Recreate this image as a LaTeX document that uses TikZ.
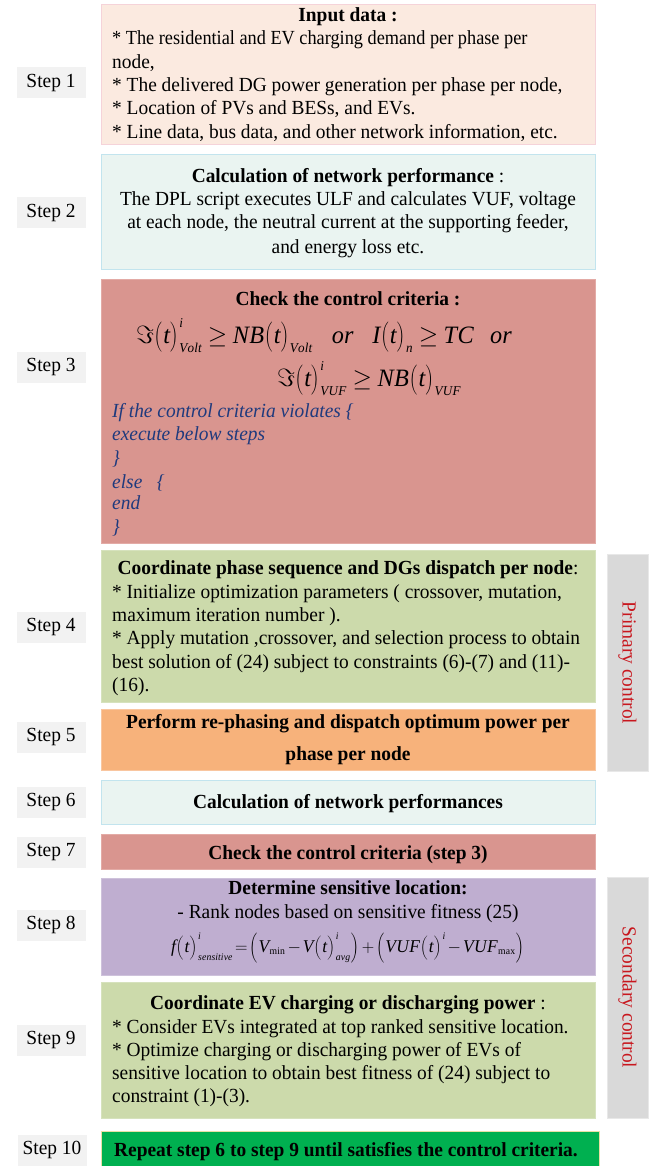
\documentclass[tikz,border=0pt]{standalone}
\usepackage{fontspec}
\usepackage{graphicx}
\setmainfont{Liberation Serif}[FakeStretch=0.97]
\DeclareMathSizes{25}{25}{13.5}{10}
\DeclareMathSizes{18}{18}{10}{7.5}
\newcommand\bodysize{\fontsize{20}{23.3}\selectfont}
\newcommand\eqsize{\fontsize{25}{30}\selectfont\thickmuskip=4mu\medmuskip=2mu}
\newcommand\eqsmall{\fontsize{18}{22}\selectfont\thickmuskip=2mu\medmuskip=2mu}
\newcommand\lpb{\mathopen{\left(\vcenter to 1.2em{}\right.}}
\newcommand\rpb{\mathclose{\left)\vcenter to 1.2em{}\right.}}
\newcommand\lpB{\mathopen{\left(\vcenter to 1.75em{}\right.}}
\newcommand\rpB{\mathclose{\left)\vcenter to 1.75em{}\right.}}
\definecolor{bAfill}{HTML}{FBEAE0}
\definecolor{bAline}{HTML}{F5D3D9}
\definecolor{bBfill}{HTML}{EAF4F1}
\definecolor{bBline}{HTML}{C2E4EE}
\definecolor{bCfill}{HTML}{D9958F}
\definecolor{bCline}{HTML}{E3ABA6}
\definecolor{bDfill}{HTML}{CCDAAB}
\definecolor{bDline}{HTML}{D6E2BD}
\definecolor{bEfill}{HTML}{F7B27B}
\definecolor{bEline}{HTML}{F9C6A0}
\definecolor{bHfill}{HTML}{BFAED0}
\definecolor{bHline}{HTML}{CEC2DB}
\definecolor{bJfill}{HTML}{00B050}
\definecolor{bJline}{HTML}{EADFA6}
\definecolor{lblfill}{HTML}{F2F2F2}
\definecolor{sidefill}{HTML}{D9D9D9}
\definecolor{sideline}{HTML}{E8E8E8}
\definecolor{sidetxt}{HTML}{C8171E}
\definecolor{navy}{HTML}{1F3A7D}
\begin{document}
\begin{tikzpicture}[x=1pt,y=-1pt,font=\bodysize,
  box/.style={rectangle, inner sep=0pt, line width=0.8pt, minimum width=494pt},
  lbl/.style={rectangle, fill=lblfill, minimum width=69pt, minimum height=31pt, inner sep=3pt},
  side/.style={rectangle, fill=sidefill, draw=sideline, line width=0.8pt, minimum width=41pt, inner sep=0pt},
  sidetext/.style={text=sidetxt, rotate=-90, inner sep=0pt},
  ltxt/.style={inner sep=0pt, anchor=base west},
  ctxt/.style={inner sep=0pt, anchor=base},
  itxt/.style={inner sep=0pt, anchor=base west, text=navy, font=\bodysize\itshape}]
\useasboundingbox (0,0) rectangle (664,1166);
\fill[white] (0,0) rectangle (664,1166);

% boxes
\node[box, fill=bAfill, draw=bAline, minimum height=140pt] (b1) at (348,74) {};
\node[box, fill=bBfill, draw=bBline, minimum height=115pt] (b2) at (348,211.5) {};
\node[box, fill=bCfill, draw=bCline, minimum height=264pt] (b3) at (348,411) {};
\node[box, fill=bDfill, draw=bDline, minimum height=152pt] (b4) at (348,626) {};
\node[box, fill=bEfill, draw=bEline, minimum height=61pt] (b5) at (348,739.5) {};
\node[box, fill=bBfill, draw=bBline, minimum height=44pt] (b6) at (348,802) {};
\node[box, fill=bCfill, draw=bCline, minimum height=35pt] (b7) at (348,851.5) {};
\node[box, fill=bHfill, draw=bHline, minimum height=97pt] (b8) at (348,926.5) {};
\node[box, fill=bDfill, draw=bDline, minimum height=136pt] (b9) at (348,1050) {};
\node[box, fill=bJfill, draw=bJline, minimum height=40pt, minimum width=498pt] (b10) at (350,1151) {};

% side bars
\node[side, minimum height=217pt] (sp) at (627.5,663) {};
\node[sidetext] (spt) at (sp.center) {Primary control};
\node[side, minimum height=241pt] (ss) at (627.5,997.5) {};
\node[sidetext] (sst) at (ss.center) {Secondary control};

% step labels
\node[lbl] (s1) at (51,83) {Step 1};
\node[lbl] (s2) at (51,213) {Step 2};
\node[lbl] (s3) at (51,367) {Step 3};
\node[lbl] (s4) at (51,627) {Step 4};
\node[lbl] (s5) at (51,737) {Step 5};
\node[lbl] (s6) at (51,802) {Step 6};
\node[lbl] (s7) at (51,852) {Step 7};
\node[lbl] (s8) at (51,925) {Step 8};
\node[lbl] (s9) at (51,1040) {Step 9};
\node[lbl] (s10) at (52,1150) {Step 10};

% box 1
\node[ctxt] (t1h) at (348,22) {\textbf{Input data :}};
\node[ltxt] (t1a) at (112,45) {\scalebox{0.942}[1]{* The residential and EV charging demand per phase per}};
\node[ltxt] (t1b) at (112,69) {node,};
\node[ltxt] (t1c) at (112,92) {* The delivered DG power generation per phase per node,};
\node[ltxt] (t1d) at (112,115) {* Location of PVs and BESs, and EVs.};
\node[ltxt] (t1e) at (112,139) {* Line data, bus data, and other network information, etc.};

% box 2
\node[ctxt] (t2h) at (348,183) {\textbf{Calculation of network performance} :};
\node[ctxt] (t2a) at (348,206) {The DPL script executes ULF and calculates VUF, voltage};
\node[ctxt] (t2b) at (348,229) {at each node, the neutral current at the supporting feeder,};
\node[ctxt] (t2c) at (348,253) {and energy loss etc.};

% box 3
\node[ctxt] (t3h) at (348,305) {\textbf{Check the control criteria :}};
\node[ltxt, font=\eqsize] (t3e1) at (136,343) {$\mathit{\Im\lpb t\rpb^{i}_{Volt} \geq NB\lpb t\rpb_{Volt}}$\hspace{19pt}\textit{or}\hspace{19pt}$\mathit{I\lpb t\rpb_{n} \geq TC}$\hspace{16pt}\textit{or}};
\node[ltxt, font=\eqsize] (t3e2) at (277,386) {$\mathit{\Im\lpb t\rpb^{i}_{VUF} \geq NB\lpb t\rpb_{VUF}}$};
\node[itxt] (t3a) at (112,417) {If the control criteria violates \{};
\node[itxt] (t3b) at (112,440) {execute below steps};
\node[itxt] (t3c) at (112,464) {\}};
\node[itxt] (t3d) at (112,488) {else \ \ \{};
\node[itxt] (t3e) at (112,509) {end};
\node[itxt] (t3f) at (112,533) {\}};

% box 4
\node[ctxt] (t4h) at (348,574) {\textbf{Coordinate phase sequence and DGs dispatch per node}:};
\node[ltxt] (t4a) at (112,598) {* Initialize optimization parameters ( crossover, mutation,};
\node[ltxt] (t4b) at (112,621) {maximum iteration number ).};
\node[ltxt] (t4c) at (112,644) {* Apply mutation ,crossover, and selection process to obtain};
\node[ltxt] (t4d) at (112,668) {best solution of (24) subject to constraints (6)-(7) and (11)-};
\node[ltxt] (t4e) at (112,691) {(16).};

% box 5
\node[ctxt] (t5a) at (348,728) {\textbf{Perform re-phasing and dispatch optimum power per}};
\node[ctxt] (t5b) at (348,760) {\textbf{phase per node}};

% box 6, 7
\node[ctxt] (t6) at (348,808) {\textbf{Calculation of network performances}};
\node[ctxt] (t7) at (348,859) {\textbf{Check the control criteria (step 3)}};

% box 8
\node[ctxt] (t8h) at (348,894) {\textbf{Determine sensitive location:}};
\node[ctxt] (t8a) at (348,918) {- Rank nodes based on sensitive fitness (25)};
\node[ctxt, font=\eqsmall] (t8e) at (348,952) {$\mathit{f\lpb t\rpb^{i}_{sensitive} = \lpB V_{\min} - V\lpb t\rpb^{i}_{avg}\rpB + \lpB VUF\lpb t\rpb^{i} - VUF_{\max}\rpB}$};

% box 9
\node[ctxt] (t9h) at (348,1009) {\textbf{Coordinate EV charging or discharging power} :};
\node[ltxt] (t9a) at (112,1033) {* Consider EVs integrated at top ranked sensitive location.};
\node[ltxt] (t9b) at (112,1056) {* Optimize charging or discharging power of EVs of};
\node[ltxt] (t9c) at (112,1079) {sensitive location to obtain best fitness of (24) subject to};
\node[ltxt] (t9d) at (112,1102) {constraint (1)-(3).};

% box 10
\node[ctxt] (t10) at (346,1156) {\textbf{Repeat step 6 to step 9 until satisfies the control criteria.}};
\end{tikzpicture}
\end{document}
